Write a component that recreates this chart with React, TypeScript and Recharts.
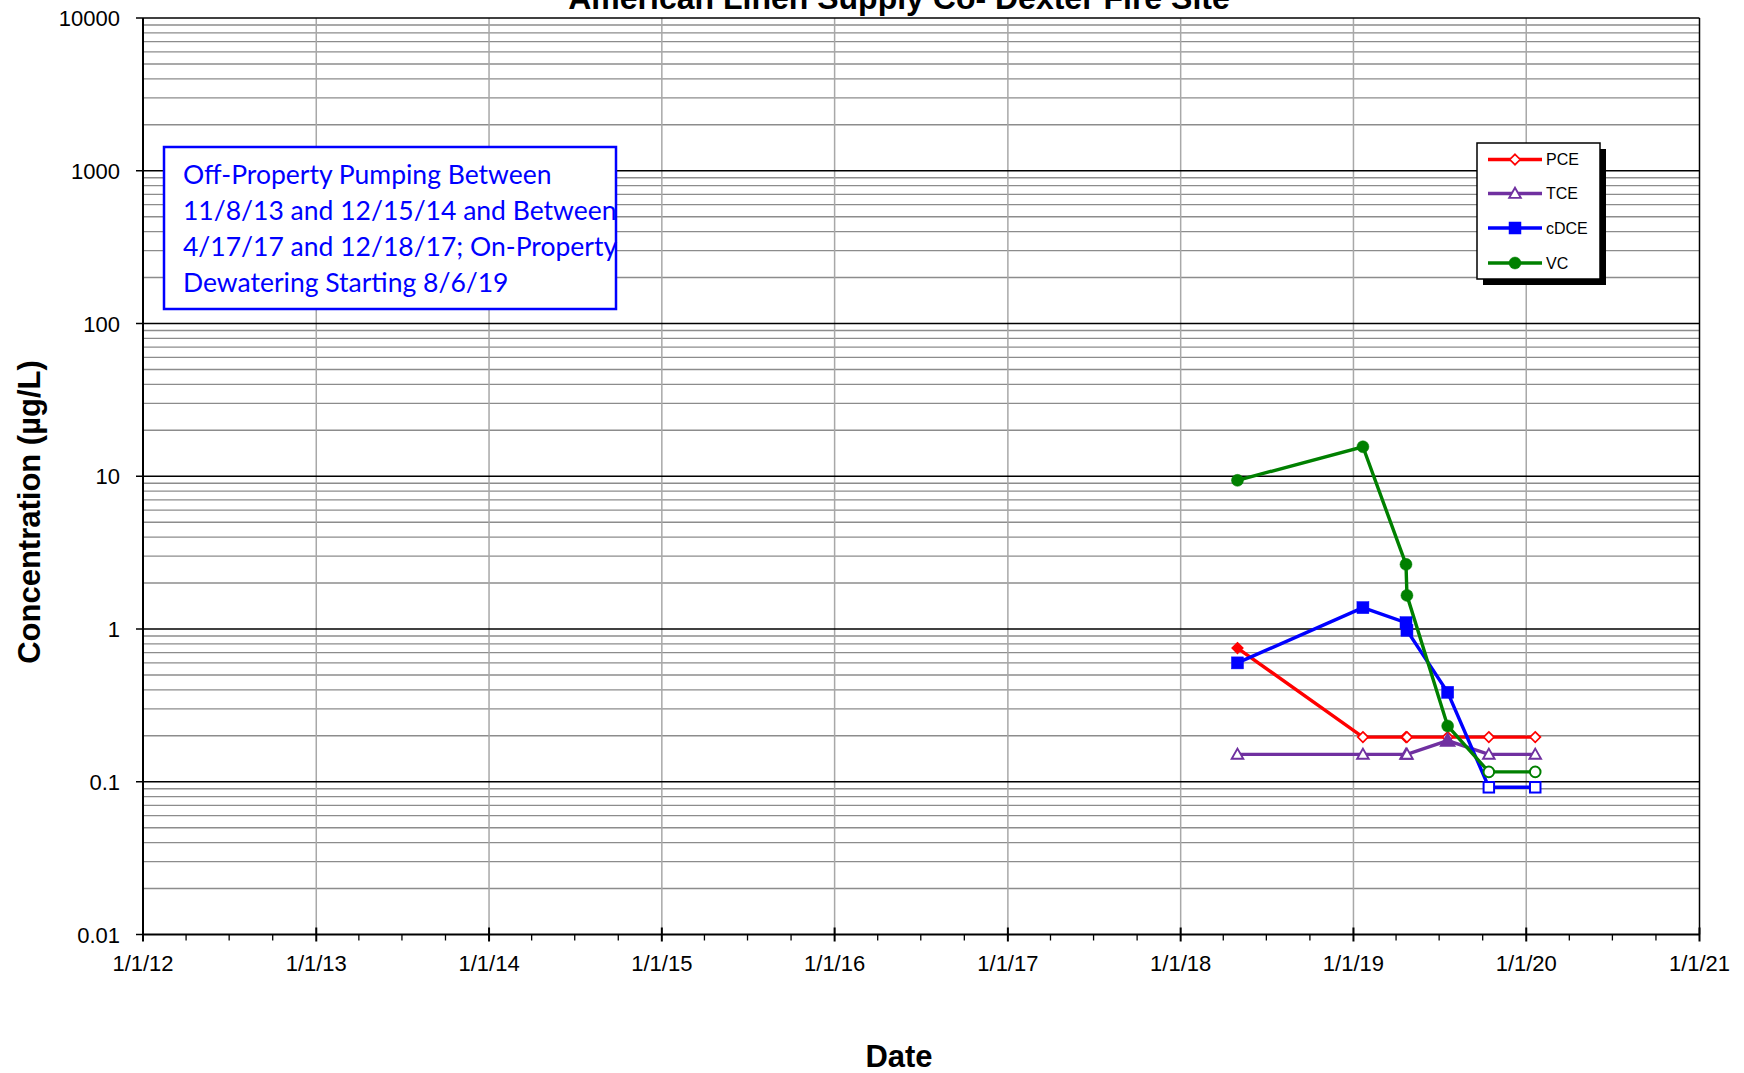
import React from 'react';
import { LineChart, Line, XAxis, YAxis, ReferenceLine } from 'recharts';

// ---- data ----
const sampleDates = ['2018-05-01', '2019-01-21', '2019-04-22', '2019-04-24', '2019-07-19', '2019-10-14', '2020-01-20'];
const pceValues = [0.75, 0.196, 0.196, 0.196, 0.196, 0.196, 0.196];
const pceDetected = [true, false, false, false, false, false, false];
const tceValues = [0.151, 0.151, 0.151, 0.151, 0.186, 0.151, 0.151];
const tceDetected = [false, false, false, false, true, false, false];
const cdceValues = [0.6, 1.38, 1.1, 0.98, 0.385, 0.092, 0.092];
const cdceDetected = [true, true, true, true, true, false, false];
const vcValues = [9.4, 15.6, 2.65, 1.66, 0.232, 0.116, 0.116];
const vcDetected = [true, true, true, true, true, false, false];

const yTickValues = [0.01, 0.1, 1, 10, 100, 1000, 10000];
const yTickLabels = ['0.01', '0.1', '1', '10', '100', '1000', '10000'];
const xTickYears = [2012, 2013, 2014, 2015, 2016, 2017, 2018, 2019, 2020, 2021];
const xTickLabels = ['1/1/12', '1/1/13', '1/1/14', '1/1/15', '1/1/16', '1/1/17', '1/1/18', '1/1/19', '1/1/20', '1/1/21'];

const titleText = 'American Linen Supply Co- Dexter Fire Site';
const noteLines = [
  'Off-Property Pumping Between',
  '11/8/13 and 12/15/14 and Between',
  '4/17/17 and 12/18/17; On-Property',
  'Dewatering Starting 8/6/19',
];
const seriesNames = ['PCE', 'TCE', 'cDCE', 'VC'];

// ---- helpers ----
const ts = (s: string) => Date.parse(s + 'T00:00:00Z');
const build = (vals: number[], det: boolean[]) =>
  sampleDates.map((d, i) => ({ t: ts(d), v: vals[i], d: det[i] }));

const pceData = build(pceValues, pceDetected);
const tceData = build(tceValues, tceDetected);
const cdceData = build(cdceValues, cdceDetected);
const vcData = build(vcValues, vcDetected);

const xMin = Date.UTC(2012, 0, 1);
const xMax = Date.UTC(2021, 0, 1);
const quarterTicks: number[] = [];
for (let y = 2012; y <= 2021; y++) {
  for (let m = 0; m < 12; m += 3) {
    const t = Date.UTC(y, m, 1);
    if (t <= xMax) quarterTicks.push(t);
  }
}
const yearTicks = xTickYears.map((y) => Date.UTC(y, 0, 1));

const majorGrid = yTickValues;
const minorGrid: number[] = [];
for (let e = -2; e < 4; e++) {
  for (let k = 2; k <= 9; k++) minorGrid.push(k * Math.pow(10, e));
}

const RED = '#ff0000';
const PURPLE = '#7030a0';
const BLUE = '#0000ff';
const GREEN = '#008000';
const colors = [RED, PURPLE, BLUE, GREEN];

const FONT = '"Liberation Sans", Arial, sans-serif';

type Shape = 'diamond' | 'triangle' | 'square' | 'circle';

function Marker({ shape, cx, cy, color, filled }: { shape: Shape; cx: number; cy: number; color: string; filled: boolean }) {
  const fill = filled ? color : '#ffffff';
  if (shape === 'diamond') {
    const r = 5.2;
    return <polygon points={`${cx},${cy - r} ${cx + r},${cy} ${cx},${cy + r} ${cx - r},${cy}`} fill={fill} stroke={color} strokeWidth={1.7} />;
  }
  if (shape === 'triangle') {
    const r = filled ? 6.8 : 5.8;
    return <polygon points={`${cx},${cy - r} ${cx + r},${cy + r * 0.75} ${cx - r},${cy + r * 0.75}`} fill={fill} stroke={color} strokeWidth={1.9} />;
  }
  if (shape === 'square') {
    const s = filled ? 12 : 10.5;
    return <rect x={cx - s / 2} y={cy - s / 2} width={s} height={s} fill={fill} stroke={color} strokeWidth={filled ? 0.5 : 2} />;
  }
  return <circle cx={cx} cy={cy} r={filled ? 6 : 5.3} fill={fill} stroke={color} strokeWidth={filled ? 0.5 : 2} />;
}

const makeDot = (shape: Shape, color: string) => (props: any) => {
  const { cx, cy, index, payload } = props;
  if (cx == null || cy == null) return <g key={`${shape}-${index}`} />;
  return (
    <g key={`${shape}-${index}`}>
      <Marker shape={shape} cx={cx} cy={cy} color={color} filled={!!payload.d} />
    </g>
  );
};

const XTick = (props: any) => {
  const { x, y, payload } = props;
  const d = new Date(payload.value);
  const isMajor = d.getUTCMonth() === 0;
  const idx = xTickYears.indexOf(d.getUTCFullYear());
  return (
    <g>
      {isMajor ? (
        <line x1={x} x2={x} y1={y - 7} y2={y + 7} stroke="#000" strokeWidth={2} />
      ) : (
        <line x1={x} x2={x} y1={y} y2={y + 6} stroke="#000" strokeWidth={1.3} />
      )}
      {isMajor && idx >= 0 && (
        <text x={x} y={y + 36} textAnchor="middle" fontSize={22} fontFamily={FONT} fill="#000">
          {xTickLabels[idx]}
        </text>
      )}
    </g>
  );
};

const YTick = (props: any) => {
  const { x, y, payload } = props;
  const idx = yTickValues.indexOf(payload.value);
  return (
    <text x={x} y={y + 8} textAnchor="end" fontSize={22} fontFamily={FONT} fill="#000">
      {idx >= 0 ? yTickLabels[idx] : ''}
    </text>
  );
};

function Overlay() {
  const legendX = 1477;
  const legendY = 143;
  const legendW = 123;
  const legendH = 136;
  const rowYs = [159.5, 193.5, 228, 263];
  const shapes: Shape[] = ['diamond', 'triangle', 'square', 'circle'];
  const legendFilled = [false, false, true, true];
  return (
    <svg width={1744} height={1073} style={{ position: 'absolute', left: 0, top: 0, pointerEvents: 'none' }}>
      <text x={899} y={9} textAnchor="middle" fontSize={32} fontWeight="bold" fontFamily={FONT} fill="#000">
        {titleText}
      </text>
      <text
        x={29}
        y={512}
        transform="rotate(-90, 29, 512)"
        textAnchor="middle"
        dominantBaseline="central"
        fontSize={31}
        fontWeight="bold"
        fontFamily={FONT}
        fill="#000"
      >
        Concentration (µg/L)
      </text>
      <text x={899} y={1067} textAnchor="middle" fontSize={31} fontWeight="bold" fontFamily={FONT} fill="#000">
        Date
      </text>

      {/* annotation box */}
      <rect x={164} y={147} width={452} height={162} fill="#ffffff" stroke={BLUE} strokeWidth={2.5} />
      {noteLines.map((ln, i) => (
        <text key={i} x={183} y={184 + i * 36} fontSize={26.5} fontFamily="Lato, 'Open Sans', sans-serif" fill={BLUE}>
          {ln}
        </text>
      ))}

      {/* legend */}
      <rect x={legendX + 6} y={legendY + 6} width={legendW} height={legendH} fill="#000" />
      <rect x={legendX} y={legendY} width={legendW} height={legendH} fill="#fff" stroke="#000" strokeWidth={1.5} />
      {seriesNames.map((n, i) => (
        <g key={n}>
          <line x1={1488} x2={1542} y1={rowYs[i]} y2={rowYs[i]} stroke={colors[i]} strokeWidth={3.5} />
          <Marker shape={shapes[i]} cx={1515} cy={rowYs[i]} color={colors[i]} filled={legendFilled[i]} />
          <text x={1546} y={rowYs[i] + 5.8} fontSize={16} fontFamily={FONT} fill="#000">
            {n}
          </text>
        </g>
      ))}
    </svg>
  );
}

export default function App() {
  return (
    <div style={{ position: 'absolute', left: 0, top: 0, width: 1744, height: 1073, background: '#fff' }}>
      <LineChart width={1744} height={1073} margin={{ top: 18, right: 44.5, bottom: 0, left: 0 }}>
        <XAxis
          dataKey="t"
          type="number"
          domain={[xMin, xMax]}
          ticks={quarterTicks}
          interval={0}
          allowDataOverflow
          height={138.5}
          tickSize={0}
          tickMargin={0}
          tickLine={false}
          tick={<XTick />}
          axisLine={{ stroke: '#000', strokeWidth: 2 }}
        />
        <YAxis
          type="number"
          scale="log"
          domain={[0.01, 10000]}
          ticks={yTickValues}
          interval={0}
          allowDataOverflow
          width={143}
          tickSize={7}
          tickMargin={16}
          tickLine={{ stroke: '#000', strokeWidth: 1.5 }}
          tick={<YTick />}
          axisLine={{ stroke: '#000', strokeWidth: 2 }}
        />
        {minorGrid.map((v) => (
          <ReferenceLine key={`mn-${v}`} y={v} stroke="#8c8c8c" strokeWidth={1.3} />
        ))}
        {yearTicks.slice(1, -1).map((t) => (
          <ReferenceLine key={`vx-${t}`} x={t} stroke="#a8a8a8" strokeWidth={1.5} />
        ))}
        <ReferenceLine x={xMax} stroke="#000" strokeWidth={1.5} />
        {majorGrid.slice(1).map((v) => (
          <ReferenceLine key={`mj-${v}`} y={v} stroke="#000" strokeWidth={1.3} />
        ))}
        <Line data={pceData} dataKey="v" stroke={RED} strokeWidth={3.4} dot={makeDot('diamond', RED)} isAnimationActive={false} />
        <Line data={tceData} dataKey="v" stroke={PURPLE} strokeWidth={3.4} dot={makeDot('triangle', PURPLE)} isAnimationActive={false} />
        <Line data={cdceData} dataKey="v" stroke={BLUE} strokeWidth={3.4} dot={makeDot('square', BLUE)} isAnimationActive={false} />
        <Line data={vcData} dataKey="v" stroke={GREEN} strokeWidth={3.4} dot={makeDot('circle', GREEN)} isAnimationActive={false} />
      </LineChart>
      <Overlay />
    </div>
  );
}
